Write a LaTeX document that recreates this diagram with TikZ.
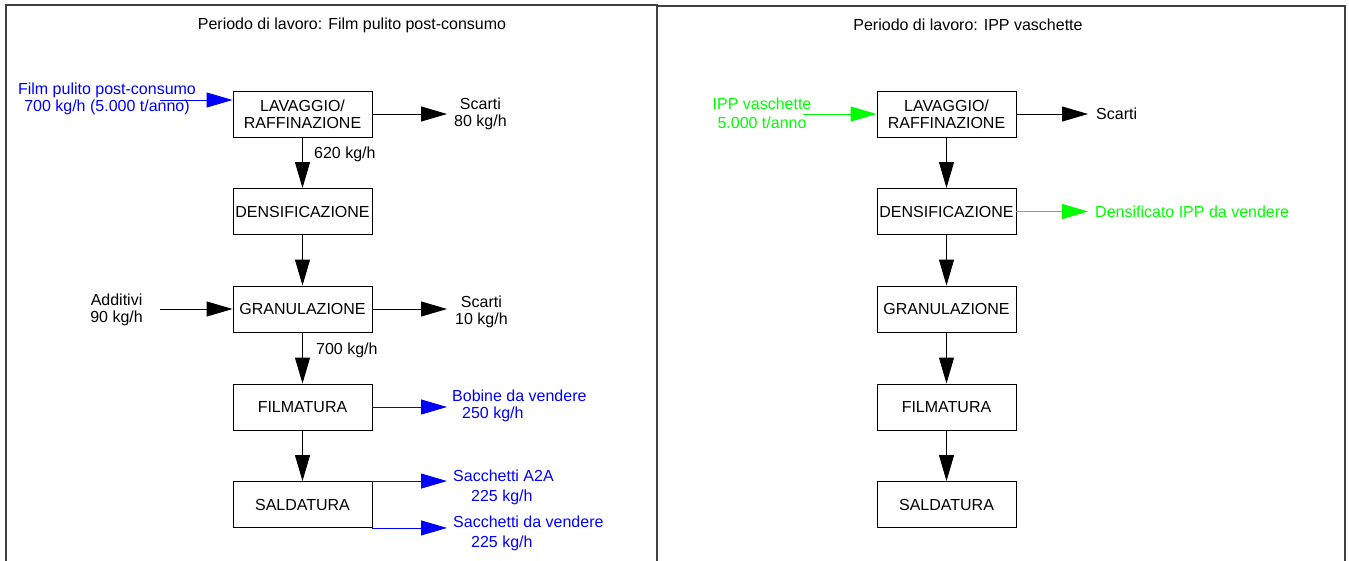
\documentclass[tikz,border=0pt]{standalone}
\usepackage{fontspec}
\setmainfont{Liberation Sans}
\usepackage{tikz}
\usetikzlibrary{
    calc,
    arrows.meta,
    positioning
}
% colours of the two product lines
\definecolor{ippgreen}{RGB}{0,255,0}
\newcommand{\flowfont}{\fontsize{16}{17}\selectfont}
\tikzset{
    procbox/.style={draw, line width=0.9pt, minimum width=139pt, minimum height=46pt, inner sep=0pt, align=center},
    flow/.style={-{Triangle[length=26pt,width=15pt]}, line width=0.9pt},
    flowlabel/.style={inner sep=0pt, align=center},
    panelframe/.style={line width=1.6pt, draw=black!75},
}

\begin{document}
\begin{tikzpicture}[x=1pt, y=-1pt, font=\flowfont]
    \clip (0,0) rectangle (1349,560);
    \draw[panelframe] (6,5) rectangle (657,580);
    \draw[panelframe] (657,6) rectangle (1345,580);
    \node[flowlabel] (title1) at (352,25) {Periodo di lavoro: Film pulito post-consumo};
    \node[flowlabel] (title2) at (968,25) {Periodo di lavoro: IPP vaschette};

    % film pulito post-consumo
    \node[procbox] (lav1) at (302.5,114) {LAVAGGIO/\\RAFFINAZIONE};
    \node[procbox] (den1) at (302.5,211.5) {DENSIFICAZIONE};
    \node[procbox] (gra1) at (302.5,309) {GRANULAZIONE};
    \node[procbox] (fil1) at (302.5,407) {FILMATURA};
    \node[procbox] (sal1) at (302.5,504.5) {SALDATURA};
    \draw[flow] (lav1) -- (den1);
    \draw[flow] (den1) -- (gra1);
    \draw[flow] (gra1) -- (fil1);
    \draw[flow] (fil1) -- (sal1);

    \node[flowlabel, blue] (fin1) at (107,99) {Film pulito post-consumo\\700 kg/h (5.000 t/anno)};
    \coordinate (in1) at (160,100);
    \draw[flow, blue] (in1) -- (in1 -| lav1.west);
    \node[flowlabel, anchor=west] (sc1) at (454,113.5) {Scarti\\80 kg/h};
    \draw[flow, shorten >=7pt] (lav1.east) -- (lav1.east -| sc1.west);
    \node[flowlabel, anchor=west] (q620) at (314,154) {620 kg/h};
    \node[flowlabel, anchor=east] (add1) at (143,310) {Additivi\\90 kg/h};
    \draw[flow, shorten <=17pt] (gra1.west -| add1.east) -- (gra1.west);
    \node[flowlabel, anchor=west] (sc1b) at (455,312) {Scarti\\10 kg/h};
    \draw[flow, shorten >=8pt] (gra1.east) -- (gra1.east -| sc1b.west);
    \node[flowlabel, anchor=west] (q700) at (316,350) {700 kg/h};
    \node[flowlabel, blue, anchor=west, align=left] (bob1) at (452,405.5) {Bobine da vendere\\\hspace*{10pt}250 kg/h};
    \draw[flow, blue, shorten >=5pt] (fil1.east) -- (fil1.east -| bob1.west);
    \node[flowlabel, blue, anchor=west, align=left] (sa1) at (453,487) {Sacchetti A2A\\[3pt]\hspace*{18pt}225 kg/h};
    \node[flowlabel, blue, anchor=west, align=left] (sv1) at (453,533) {Sacchetti da vendere\\[3pt]\hspace*{18pt}225 kg/h};
    \draw[flow, blue, shorten >=6pt] (sal1.north east) -- (sal1.north east -| sa1.west);
    \draw[flow, blue, shorten >=6pt] (sal1.south east) -- (sal1.south east -| sv1.west);

    % IPP vaschette
    \node[procbox] (lav2) at (946.5,114) {LAVAGGIO/\\RAFFINAZIONE};
    \node[procbox] (den2) at (946.5,211.5) {DENSIFICAZIONE};
    \node[procbox] (gra2) at (946.5,309) {GRANULAZIONE};
    \node[procbox] (fil2) at (946.5,407) {FILMATURA};
    \node[procbox] (sal2) at (946.5,504.5) {SALDATURA};
    \draw[flow] (lav2) -- (den2);
    \draw[flow] (den2) -- (gra2);
    \draw[flow] (gra2) -- (fil2);
    \draw[flow] (fil2) -- (sal2);

    \node[flowlabel, ippgreen] (fin2) at (762,113) {IPP vaschette\\[2pt]5.000 t/anno};
    \coordinate (in2) at (803,114);
    \draw[flow, ippgreen] (in2) -- (in2 -| lav2.west);
    \node[flowlabel, anchor=west] (sc2) at (1096,114) {Scarti};
    \draw[flow, shorten >=8pt] (lav2.east) -- (sc2.west);
    \node[flowlabel, ippgreen, anchor=west] (dv2) at (1095,211.5) {Densificato IPP da vendere};
    \draw[flow, ippgreen, shorten >=7pt] (den2.east) -- (dv2.west);
\end{tikzpicture}
\end{document}
